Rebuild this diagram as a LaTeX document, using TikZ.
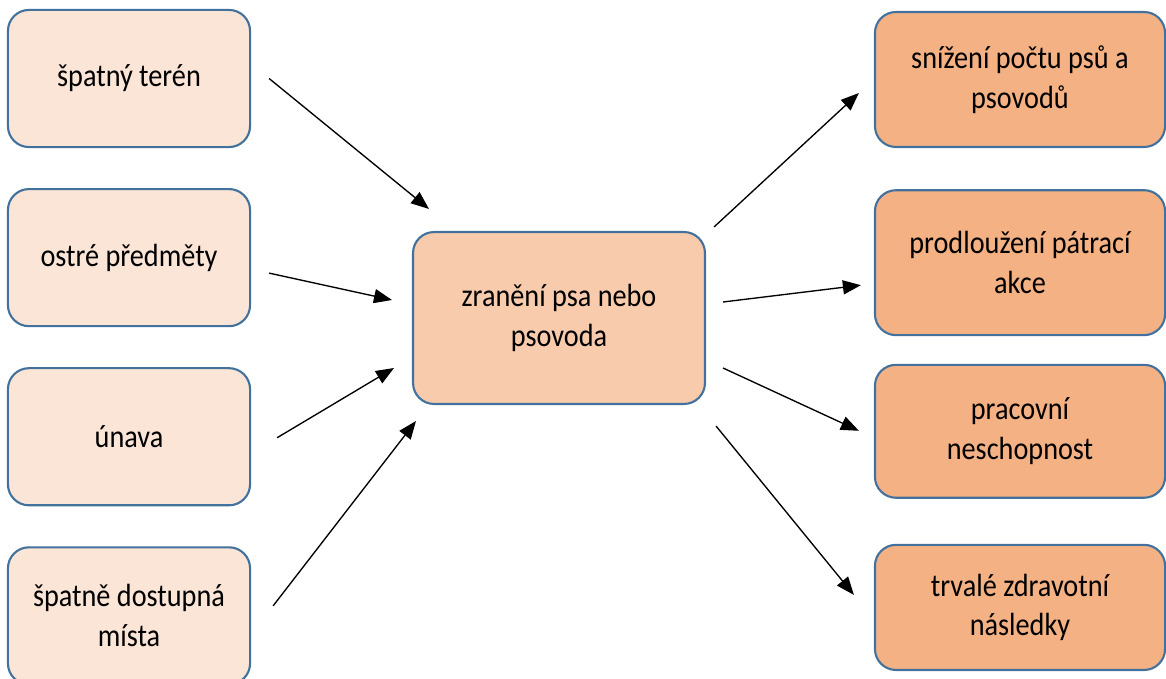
\documentclass[tikz,border=0pt]{standalone}
\usepackage{fontspec}
\setmainfont[FakeStretch=0.88]{Carlito}
\usepackage{tikz}
\usetikzlibrary{positioning}
\usetikzlibrary{arrows.meta}
\definecolor{causefill}{HTML}{FBE5D6}
\definecolor{corefill}{HTML}{F8CBAD}
\definecolor{effectfill}{HTML}{F4B183}
\definecolor{boxline}{HTML}{41719C}
\tikzset{box node/.style={rectangle,rounded corners=7pt,draw=boxline,line width=0.7pt,align=center,inner sep=2pt,font=\fontsize{10.7}{13.3}\selectfont},
  cause node/.style={box node,fill=causefill,minimum width=80.7pt,minimum height=45.7pt},
  effect node/.style={box node,fill=effectfill,minimum width=96.7pt},
  arr/.style={-{Triangle[length=6pt,width=4.7pt]},line width=0.45pt,black}}

\begin{document}
\begin{tikzpicture}[x=0.3333pt, y=-0.3333pt, node distance=13.3pt]
    \useasboundingbox (0,0) rectangle (1166,678);
		\node[cause node] (l1) at (129,78.5) {špatný terén};
	    \node[cause node] (l2) [below = of l1] {ostré předměty};
	    \node[cause node] (l3) [below = of l2] {únava};
	    \node[cause node] (l4) [below = of l3] {špatně dostupná\\místa};
	    \node[box node, fill=corefill, minimum width=97.3pt, minimum height=57.3pt] (c) at (559,318) {zranění psa nebo\\psovoda};
	    \node[effect node, minimum height=45pt] (r1) at (1020,79.5) {snížení počtu psů a\\psovodů};
	    \node[effect node, minimum height=48.3pt] (r2) [below = 13.7pt of r1] {prodloužení pátrací\\akce};
	    \node[effect node, minimum height=44.3pt] (r3) [below = 9.2pt of r2] {pracovní\\neschopnost};
	    \node[effect node, minimum height=41.7pt] (r4) [below = 15pt of r3] {trvalé zdravotní\\následky};
	
	    % causes
	    \draw[arr] ([shift={(18,0)}]l1.east) -- ([shift={(17,-22)}]c.north west);
	    \draw[arr] ([shift={(18,15.5)}]l2.east) -- ([shift={(-20,-18)}]c.west);
	    \draw[arr] ([shift={(26,1)}]l3.east) -- ([shift={(-18,50)}]c.west);
	    \draw[arr] ([shift={(22,-10)}]l4.east) -- ([shift={(4,16)}]c.south west);
	    % effects
	    \draw[arr] ([shift={(8,-4)}]c.north east) -- ([shift={(-15,13.5)}]r1.west);
	    \draw[arr] ([shift={(17,-16)}]c.east) -- ([shift={(-13,22.5)}]r2.west);
	    \draw[arr] ([shift={(17,50)}]c.east) -- ([shift={(-15,-0.5)}]r3.west);
	    \draw[arr] ([shift={(10,21)}]c.south east) -- ([shift={(-20,-12.5)}]r4.west);
	\end{tikzpicture}
\end{document}
